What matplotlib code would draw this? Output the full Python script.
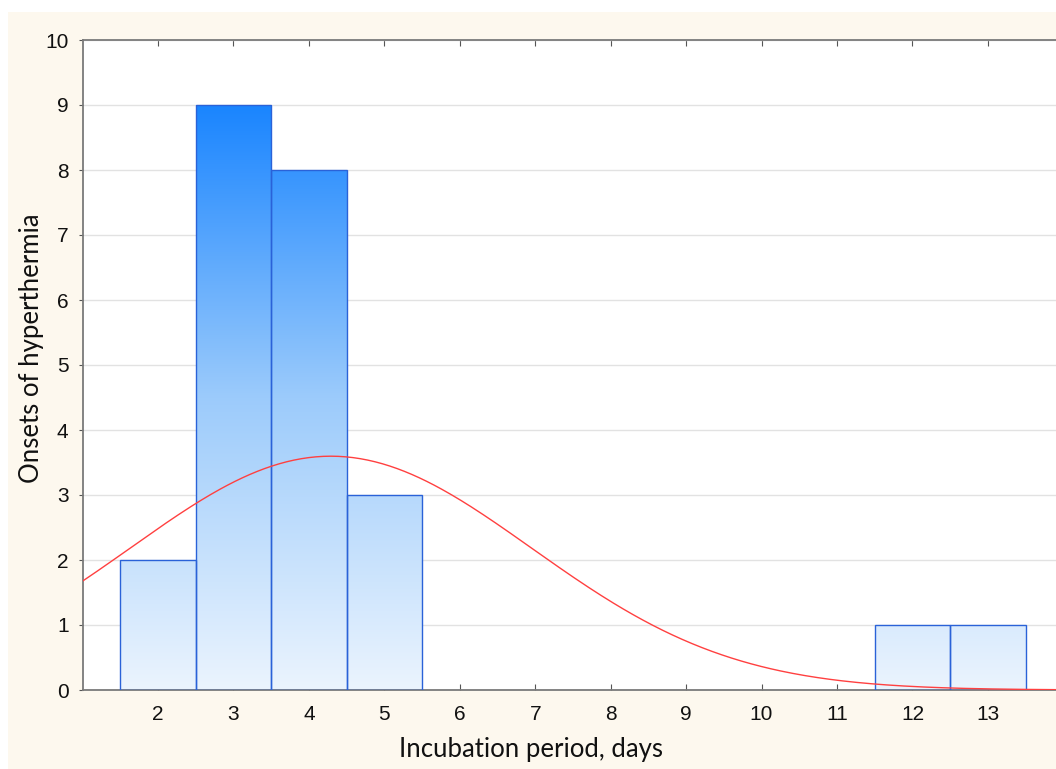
import numpy as np
import matplotlib
matplotlib.use("Agg")
import matplotlib.pyplot as plt
from matplotlib.colors import LinearSegmentedColormap
from matplotlib.patches import Rectangle
from matplotlib import font_manager

# ---- data ----
days = [2, 3, 4, 5, 12, 13]
counts = [2, 9, 8, 3, 1, 1]
x_ticks = [2, 3, 4, 5, 6, 7, 8, 9, 10, 11, 12, 13]
y_ticks = [0, 1, 2, 3, 4, 5, 6, 7, 8, 9, 10]
x_label = "Incubation period, days"
y_label = "Onsets of hyperthermia"

def pick(fams):
    avail = {f.name for f in font_manager.fontManager.ttflist}
    for f in fams:
        if f in avail:
            return f
    return "DejaVu Sans"

tick_font = pick(["Liberation Sans Narrow", "Liberation Sans", "DejaVu Sans"])
label_font = pick(["Lato", "Open Sans", "DejaVu Sans"])

W, H = 1056, 769
fig = plt.figure(figsize=(W / 100, H / 100), dpi=100, facecolor="white")
# cream panel background
fig.patches.append(Rectangle((8 / W, 0), 1 - 8 / W, 1 - 12 / H,
                             transform=fig.transFigure, facecolor="#fdf8ee",
                             edgecolor="none", zorder=-10))

# x=1 at 82.5px, 75.45 px per unit up to x=14 (extends past the right edge)
left_px, right_px = 82.5, 82.5 + 13 * 75.45
ax = fig.add_axes([left_px / W, 1 - 690 / H, (right_px - left_px) / W, (690 - 40) / H])
ax.set_facecolor("white")

# gradient bars
cmap = LinearSegmentedColormap.from_list("g", ["#ebf4fe", "#9ccbfb", "#1a85ff"])
ymax = max(counts)
grad = np.linspace(0, 1, 256).reshape(-1, 1)
for d, c in zip(days, counts):
    rect = Rectangle((d - 0.5, 0), 1, c, facecolor="none", edgecolor="#2a62d8",
                     linewidth=1.0, zorder=3)
    ax.add_patch(rect)
    im = ax.imshow(grad, cmap=cmap, origin="lower", aspect="auto",
                   extent=[d - 0.5, d + 0.5, 0, ymax], zorder=2,
                   interpolation="bilinear")
    clip = Rectangle((d - 0.5, 0), 1, c, transform=ax.transData)
    im.set_clip_path(clip)
ax.set_xlim(1, 14)
ax.set_ylim(0, 10)

# fitted normal curve from data
vals = np.repeat(days, counts)
mu = vals.mean()
sd = vals.std(ddof=1)
n = len(vals)
xs = np.linspace(1, 14, 400)
ys = n / (sd * np.sqrt(2 * np.pi)) * np.exp(-(xs - mu) ** 2 / (2 * sd ** 2))
ax.plot(xs, ys, color="#ff4040", linewidth=1.0, zorder=4)

# grid
ax.set_yticks(y_ticks)
ax.set_xticks(x_ticks)
ax.yaxis.grid(True, color="#e2e2e2", linewidth=1.0, zorder=1)
ax.set_axisbelow(True)

for s in ["left", "top", "bottom"]:
    ax.spines[s].set_color("#7a7a7a")
    ax.spines[s].set_linewidth(1.3)
ax.spines["right"].set_visible(False)

ax.tick_params(axis="x", direction="in", top=True, length=4, color="#555555",
               labelsize=15, pad=11)
ax.tick_params(axis="y", direction="out", length=3, color="#555555",
               labelsize=15, pad=7)
for lbl in ax.get_xticklabels() + ax.get_yticklabels():
    lbl.set_fontfamily(tick_font)
    lbl.set_color("#111111")

fig.text(531 / W, 1 - 749 / H, x_label, ha="center", va="center",
         fontsize=18.5, family=label_font, color="#111111")
fig.text(32 / W, 1 - 348 / H, y_label, ha="center", va="center",
         rotation=90, fontsize=18.5, family=label_font, color="#111111")

fig.savefig("out.png", dpi=100, facecolor=fig.get_facecolor())
